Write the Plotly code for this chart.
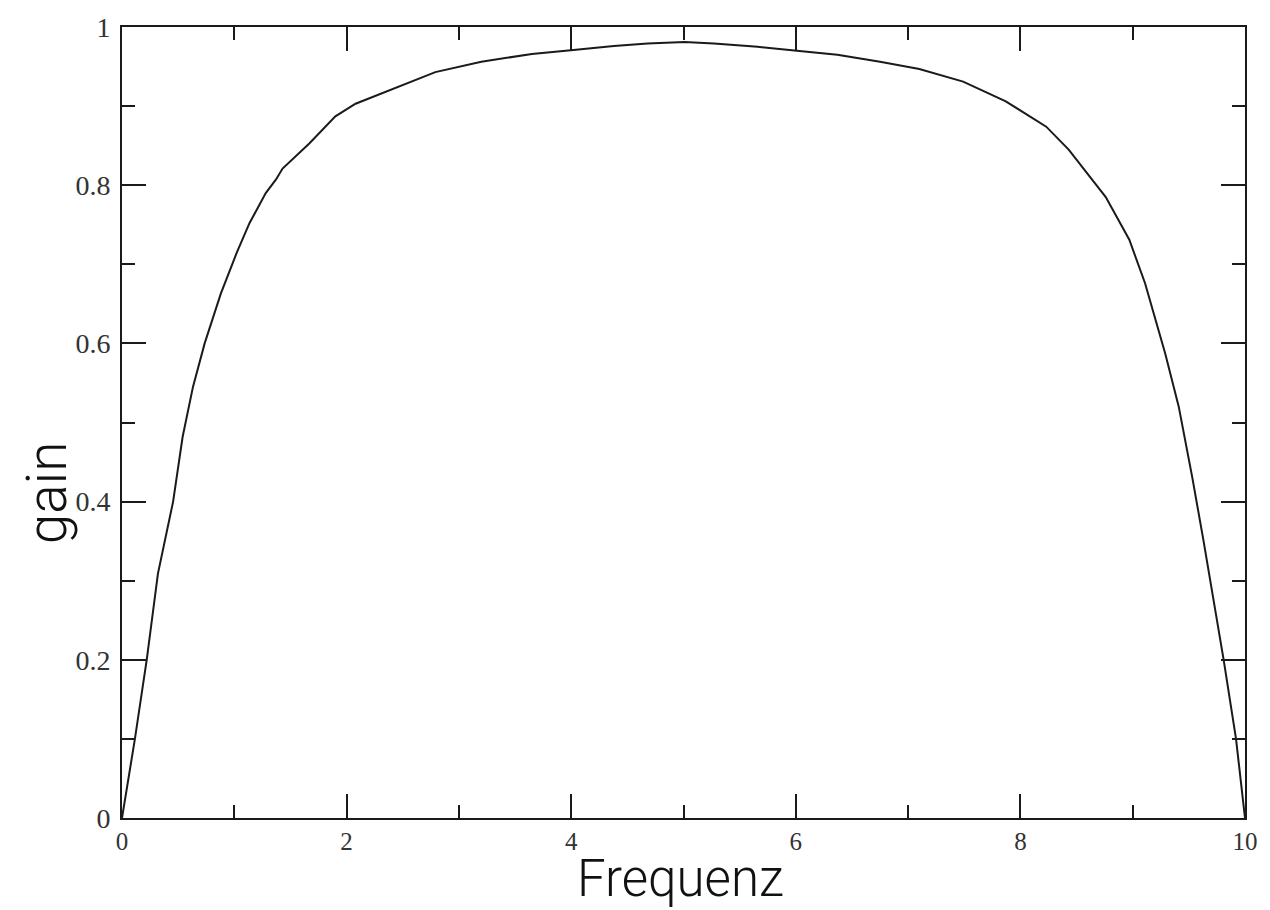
import plotly.graph_objects as go

freq = [0, 0.115, 0.22, 0.32, 0.455, 0.54, 0.632, 0.736, 0.88, 1.02, 1.135, 1.28, 1.37,
        1.43, 1.67, 1.90, 2.08, 2.41, 2.79, 3.20, 3.65, 4.02, 4.38, 4.68, 5.01, 5.27,
        5.66, 6.01, 6.37, 6.75, 7.10, 7.49, 7.87, 8.23, 8.43, 8.76, 8.97, 9.11, 9.29,
        9.41, 9.53, 9.63, 9.72, 9.81, 9.92, 10]
gain = [0, 0.1, 0.2, 0.309, 0.40, 0.482, 0.545, 0.600, 0.663, 0.714, 0.752, 0.79, 0.807,
        0.821, 0.853, 0.887, 0.903, 0.922, 0.943, 0.956, 0.966, 0.971, 0.976, 0.979, 0.981,
        0.979, 0.975, 0.970, 0.965, 0.956, 0.947, 0.931, 0.906, 0.874, 0.845, 0.785, 0.731,
        0.676, 0.587, 0.520, 0.431, 0.351, 0.276, 0.2, 0.1, 0]

x_ticks = [0, 2, 4, 6, 8, 10]
x_ticklabels = ["0", "2", "4", "6", "8", "10"]
y_ticks = [0, 0.2, 0.4, 0.6, 0.8, 1]
y_ticklabels = ["0", "0.2", "0.4", "0.6", "0.8", "1"]

fig = go.Figure()
fig.add_trace(go.Scatter(x=freq, y=gain, mode="lines",
                         line=dict(color="#1a1a1a", width=2), showlegend=False))

common = dict(showline=True, linecolor="#1a1a1a", linewidth=2, mirror="allticks",
              ticks="inside", ticklen=24, tickwidth=2, tickcolor="#1a1a1a",
              showgrid=False, zeroline=False)

fig.update_xaxes(range=[0, 10], tickvals=x_ticks, ticktext=x_ticklabels,
                 tickfont=dict(family="Liberation Serif", size=25, color="#333333"),
                 minor=dict(ticks="inside", ticklen=13, tickwidth=2, dtick=1,
                            tickcolor="#1a1a1a", showgrid=False),
                 ticklabelstandoff=0, **common)
fig.update_yaxes(range=[0, 1], tickvals=y_ticks, ticktext=y_ticklabels,
                 tickfont=dict(family="Liberation Serif", size=28, color="#333333"),
                 minor=dict(ticks="inside", ticklen=13, tickwidth=2, dtick=0.1,
                            tickcolor="#1a1a1a", showgrid=False),
                 ticklabelstandoff=4, **common)

fig.add_annotation(text="Frequenz", xref="paper", yref="paper", x=0.497, y=-0.0765,
                   xanchor="center", yanchor="middle", showarrow=False, borderpad=0,
                   font=dict(family="Roboto", size=51, color="#111111", weight=300))
fig.add_annotation(text="gain", xref="paper", yref="paper", x=-0.0665, y=0.411,
                   xanchor="center", yanchor="middle", textangle=-90, showarrow=False,
                   borderpad=0, font=dict(family="Roboto", size=55, color="#111111", weight=300))

fig.update_layout(width=1270, height=910, margin=dict(l=122, r=20, t=27, b=92),
                  paper_bgcolor="white", plot_bgcolor="white")

fig.write_html("out.html")
